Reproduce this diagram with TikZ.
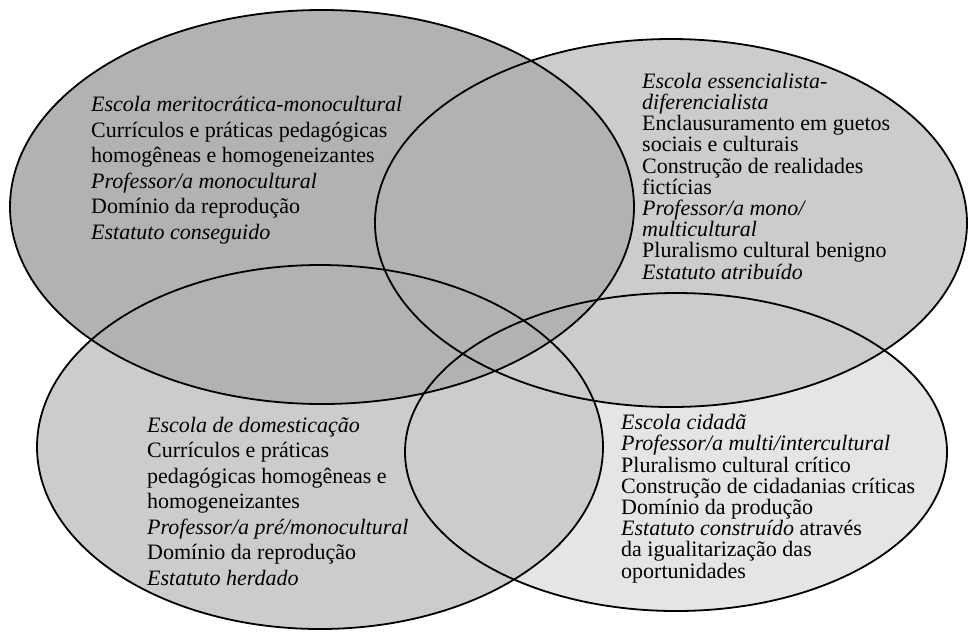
\documentclass[tikz,border=0pt]{standalone}
\usepackage{fontspec}
\setmainfont{Liberation Serif}
\usetikzlibrary{positioning}
\tikzset{ring/.style={draw=black,line width=1.8pt},
  txt/.style={align=left,anchor=base west,inner sep=0pt,font=\fontsize{22}{25.5}\selectfont},
  txtb/.style={txt,font=\fontsize{22}{21.2}\selectfont}}

\begin{document}
\begin{tikzpicture}[x=1pt,y=-1pt]
\useasboundingbox (0,0) rectangle (969,633);
% fills, lightest first
\fill[black!10] (676,452) ellipse [x radius=271, y radius=159];
\fill[black!20] (320,447) ellipse [x radius=283, y radius=182];
\fill[black!20] (671,223) ellipse [x radius=296, y radius=184];
\fill[black!30] (322,207) ellipse [x radius=312, y radius=197];
%
\draw[ring] (676,452) ellipse [x radius=271, y radius=159];
\draw[ring] (320,447) ellipse [x radius=283, y radius=182];
\draw[ring] (671,223) ellipse [x radius=296, y radius=184];
\draw[ring] (322,207) ellipse [x radius=312, y radius=197];
%
% anchors sit on the last line
\node (tl) [txt] at (91,239) {\textit{Escola meritocrática-monocultural}\\
  Currículos e práticas pedagógicas\\
  homogêneas e homogeneizantes\\
  \textit{Professor/a monocultural}\\
  Domínio da reprodução\\
  \textit{Estatuto conseguido}};
\node (tr) [txtb] at (642,279) {\textit{Escola essencialista-}\\
  \textit{diferencialista}\\
  Enclausuramento em guetos\\
  sociais e culturais\\
  Construção de realidades\\
  fictícias\\
  \textit{Professor/a mono/}\\
  \textit{multicultural}\\
  Pluralismo cultural benigno\\
  \textit{Estatuto atribuído}};
\node (bl) [txt] at (147,585) {\textit{Escola de domesticação}\\
  Currículos e práticas\\
  pedagógicas homogêneas e\\
  homogeneizantes\\
  \textit{Professor/a pré/monocultural}\\
  Domínio da reprodução\\
  \textit{Estatuto herdado}};
\node (br) [txtb] at (621,578) {\textit{Escola cidadã}\\
  \textit{Professor/a multi/intercultural}\\
  Pluralismo cultural crítico\\
  Construção de cidadanias críticas\\
  Domínio da produção\\
  \textit{Estatuto construído} através\\
  da igualitarização das\\
  oportunidades};
\end{tikzpicture}
\end{document}
